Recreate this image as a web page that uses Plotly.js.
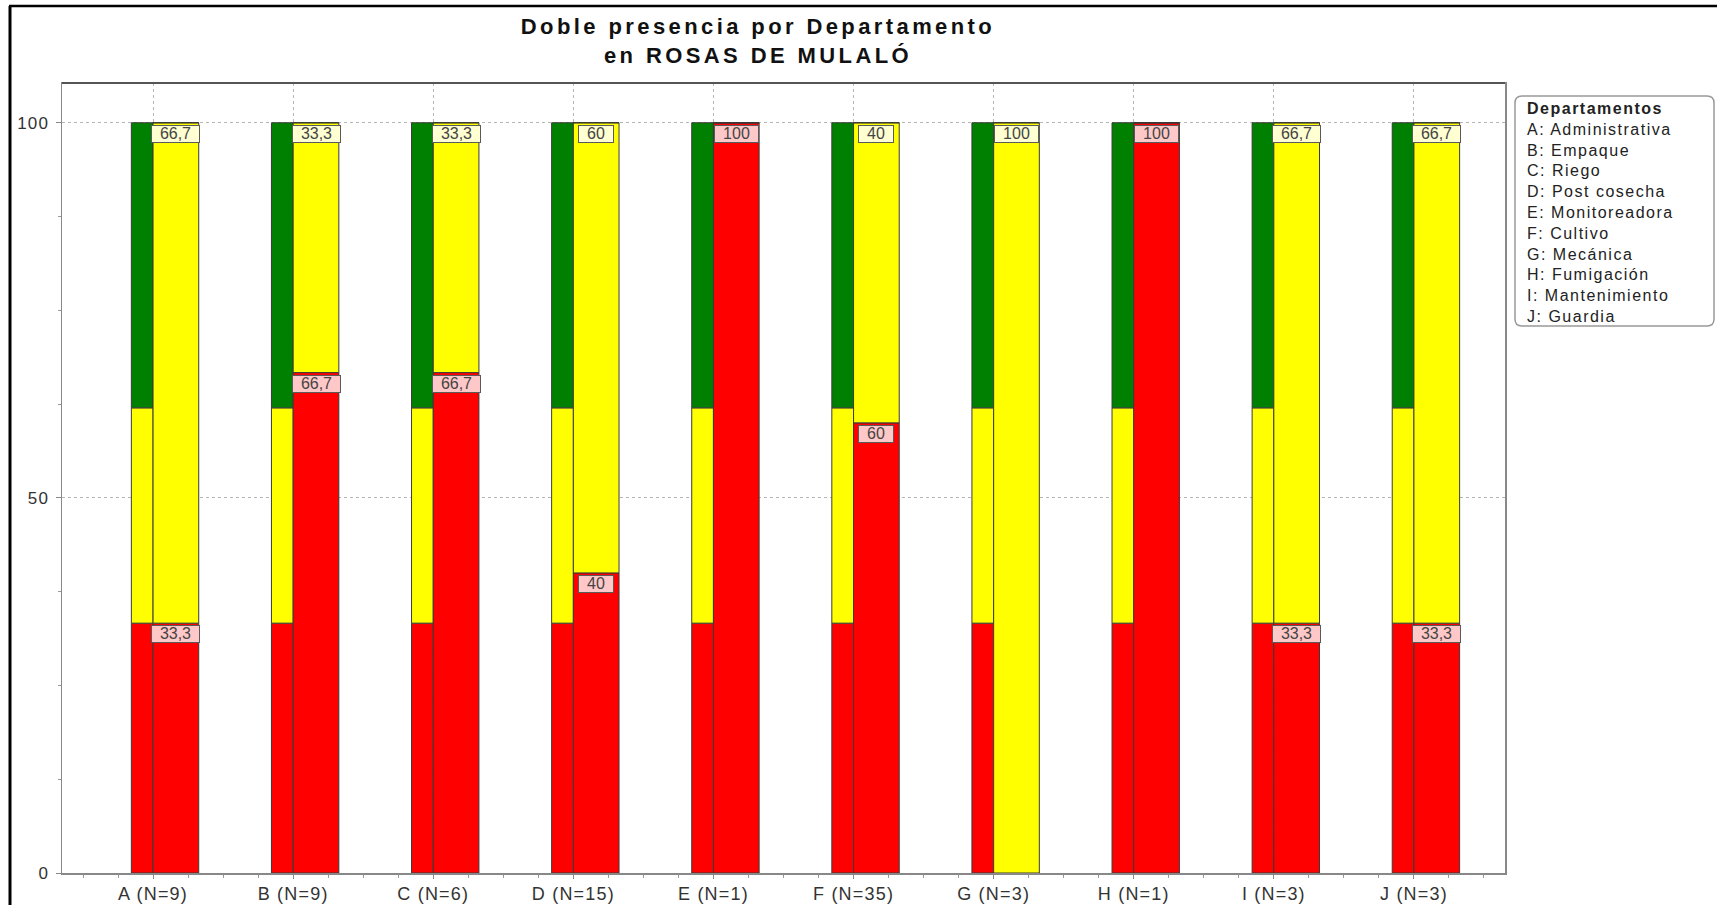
<!DOCTYPE html>
<html>
<head>
<meta charset="utf-8">
<script src="https://cdn.plot.ly/plotly-3.0.1.min.js"></script>
<style>
  html, body { margin: 0; padding: 0; background: #fff; }
  #chart { width: 1717px; height: 905px; }
  /* the original has spaced-out lettering */
  .gtitle { letter-spacing: 3.4px; }
  .xtick text, .ytick text { letter-spacing: 1.2px; }
  .annotation[data-index="0"] .annotation-text { letter-spacing: 1.5px; }
</style>
</head>
<body>
<div id="chart"></div>
<script>
/* -------------------------------
   Data
   ------------------------------- */

const TICK_LABELS = ["A (N=9)", "B (N=9)", "C (N=6)", "D (N=15)", "E (N=1)",
                     "F (N=35)", "G (N=3)", "H (N=1)", "I (N=3)", "J (N=3)"];

const DEPT_LETTERS = ["A", "B", "C", "D", "E", "F", "G", "H", "I", "J"];
const DEPT_NAMES = ["Administrativa", "Empaque", "Riego", "Post cosecha", "Monitoreadora",
                    "Cultivo", "Mecánica", "Fumigación", "Mantenimiento", "Guardia"];

// department results (% unfavourable / intermediate / favourable)
const RED    = [33.3, 66.7, 66.7, 40, 100, 60, 0,   100, 33.3, 33.3];
const YELLOW = [66.7, 33.3, 33.3, 60, 0,   40, 100, 0,   66.7, 66.7];
const GREEN  = [0,    0,    0,    0,  0,   0,  0,   0,   0,    0];

// reference population (narrow bar next to each department)
const REF_RED    = [33.3, 33.3, 33.3, 33.3, 33.3, 33.3, 33.3, 33.3, 33.3, 33.3];
const REF_YELLOW = [28.7, 28.7, 28.7, 28.7, 28.7, 28.7, 28.7, 28.7, 28.7, 28.7];
const REF_GREEN  = [38.0, 38.0, 38.0, 38.0, 38.0, 38.0, 38.0, 38.0, 38.0, 38.0];

const Y_TICKS = [0, 50, 100];

/* -------------------------------
   Geometry / style
   ------------------------------- */

const W = 1717, H = 905;
const M = { l: 62, r: 212, t: 83, b: 32 };
const PW = W - M.l - M.r, PH = H - M.t - M.b;

// page pixel -> paper coords (for decorations outside the plot)
const px = x => (x - M.l) / PW;
const py = y => (H - M.b - y) / PH;

const C_RED = "#ff0000", C_YEL = "#ffff00", C_GRN = "#008000";
const OUTLINE = { color: "#3a3a3a", width: 1 };
const REF_W = 0.155, DEP_W = 0.326;
const FONT = "Liberation Sans, Arial, sans-serif";

const xs = TICK_LABELS.map((_, i) => i);
const add = (a, b) => a.map((v, i) => v + b[i]);

function barTrace(y, base, color, offset, width) {
  return {
    type: "bar", x: xs, y: y, base: base,
    offset: offset, width: width,
    marker: { color: color, line: OUTLINE },
    hoverinfo: "skip", showlegend: false
  };
}

const zeros = xs.map(() => 0);
const traces = [
  barTrace(REF_RED, zeros, C_RED, -REF_W, REF_W),
  barTrace(REF_YELLOW, REF_RED, C_YEL, -REF_W, REF_W),
  barTrace(REF_GREEN, add(REF_RED, REF_YELLOW), C_GRN, -REF_W, REF_W),
  barTrace(RED, zeros, C_RED, 0, DEP_W),
  barTrace(YELLOW, RED, C_YEL, 0, DEP_W),
  barTrace(GREEN, add(RED, YELLOW), C_GRN, 0, DEP_W)
];

/* -------------------------------
   Annotations
   ------------------------------- */

const legendText = "<b>Departamentos</b><br>" +
  DEPT_LETTERS.map((l, i) => l + ": " + DEPT_NAMES[i]).join("<br>");

const annotations = [{
  xref: "paper", yref: "paper", x: px(1525), y: py(98),
  xanchor: "left", yanchor: "top", align: "left",
  text: legendText, showarrow: false,
  font: { family: FONT, size: 16, color: "#222" }
}];

function valueLabel(i, v, top, bg) {
  const txt = String(v).replace(".", ",");
  const digits = txt.replace(",", "").length;
  return {
    x: i + DEP_W / 2, y: top, xref: "x", yref: "y",
    xanchor: "center", yanchor: "top", yshift: -2,
    text: txt, showarrow: false,
    width: digits * 9 + (txt.includes(",") ? 4 : 0) + 16, height: 15.5,
    bgcolor: bg, bordercolor: "#5a5a5a", borderwidth: 1, borderpad: 0,
    font: { family: FONT, size: 16, color: "#444" }
  };
}

xs.forEach(i => {
  if (RED[i] > 0) annotations.push(valueLabel(i, RED[i], RED[i], "#ffc8c8"));
  if (YELLOW[i] > 0) annotations.push(valueLabel(i, YELLOW[i], RED[i] + YELLOW[i], "#ffffd2"));
});

/* -------------------------------
   Shapes: outer frame, plot top edge, legend box
   ------------------------------- */

const r = 7; // legend corner radius, px
const lx0 = px(1515), lx1 = px(1714), ly0 = py(96), ly1 = py(326);
const rx = r / PW, ry = r / PH;
const legendPath =
  `M${lx0 + rx},${ly0} L${lx1 - rx},${ly0} Q${lx1},${ly0} ${lx1},${ly0 - ry} ` +
  `L${lx1},${ly1 + ry} Q${lx1},${ly1} ${lx1 - rx},${ly1} ` +
  `L${lx0 + rx},${ly1} Q${lx0},${ly1} ${lx0},${ly1 + ry} ` +
  `L${lx0},${ly0 - ry} Q${lx0},${ly0} ${lx0 + rx},${ly0} Z`;

const shapes = [
  { type: "line", xref: "paper", yref: "paper", x0: px(10), x1: px(10), y0: py(6), y1: py(H + 5),
    line: { color: "#000", width: 3 } },
  { type: "line", xref: "paper", yref: "paper", x0: px(9), x1: px(W + 5), y0: py(6), y1: py(6),
    line: { color: "#000", width: 2.5 } },
  { type: "line", xref: "paper", yref: "paper", x0: 0, x1: 1, y0: 1, y1: 1,
    line: { color: "#555", width: 2 } },
  { type: "path", xref: "paper", yref: "paper", path: legendPath,
    line: { color: "#999", width: 1.5 }, fillcolor: "rgba(0,0,0,0)" }
];

/* -------------------------------
   Layout
   ------------------------------- */

const layout = {
  width: W, height: H,
  margin: M,
  paper_bgcolor: "#fff", plot_bgcolor: "#fff",
  barmode: "overlay",
  showlegend: false,
  font: { family: FONT, color: "#333" },
  title: {
    text: "Doble presencia por Departamento<br>en ROSAS DE MULALÓ",
    xref: "container", yref: "container",
    x: 758 / W, xanchor: "center",
    y: 1 - 34 / H, yanchor: "top",
    font: { family: FONT, size: 22, weight: "bold", color: "#111" }
  },
  xaxis: {
    type: "linear", range: [-0.65, 9.65],
    tickmode: "array", tickvals: xs, ticktext: TICK_LABELS,
    ticks: "outside", ticklen: 4, tickcolor: "#888",
    tickfont: { family: FONT, size: 18, color: "#333" },
    showline: true, linecolor: "#888", linewidth: 1.5, mirror: true,
    showgrid: true, gridcolor: "#b5b5b5", griddash: "3px,3px", gridwidth: 1,
    zeroline: false, fixedrange: true,
    minor: { dtick: 0.25, tick0: 0, ticks: "outside", ticklen: 3, tickcolor: "#999", showgrid: false }
  },
  yaxis: {
    range: [0, 105.3],
    tickmode: "array", tickvals: Y_TICKS,
    ticks: "outside", ticklen: 5, tickcolor: "#888",
    ticklabelstandoff: 3,
    tickfont: { family: FONT, size: 17, color: "#333" },
    showline: true, linecolor: "#888", linewidth: 1.5, mirror: true,
    showgrid: true, gridcolor: "#b5b5b5", griddash: "3px,3px", gridwidth: 1,
    zeroline: false, fixedrange: true,
    minor: { dtick: 12.5, tick0: 0, ticks: "outside", ticklen: 3, tickcolor: "#999", showgrid: false }
  },
  shapes: shapes,
  annotations: annotations
};

Plotly.newPlot("chart", traces, layout, { displayModeBar: false, staticPlot: true });
</script>
</body>
</html>
